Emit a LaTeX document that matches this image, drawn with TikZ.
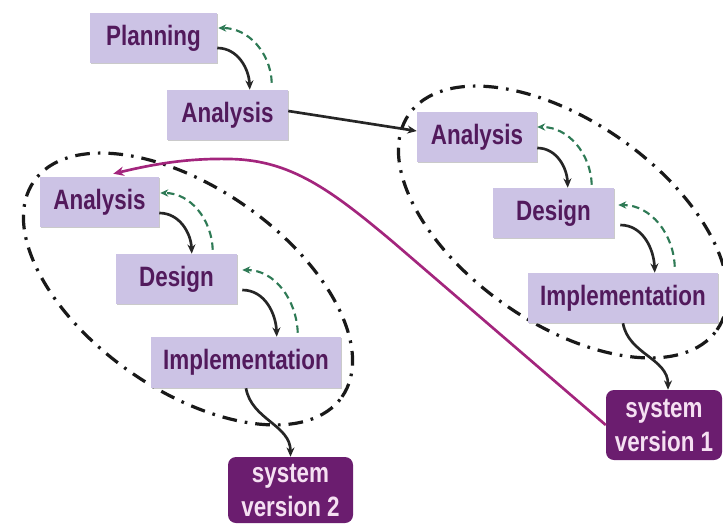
\documentclass[tikz,border=0pt]{standalone}
\usepackage{fontspec}
\setmainfont[FakeStretch=0.8]{Liberation Sans}
\usetikzlibrary{calc,arrows.meta,shadows}

\definecolor{phasefill}{HTML}{CCC3E5}
\definecolor{phasetext}{HTML}{521A5C}
\definecolor{releasefill}{HTML}{6B1D6F}
\definecolor{releasetext}{HTML}{F5E0F2}
\definecolor{feedback}{HTML}{2E7A55}
\definecolor{nextround}{HTML}{A3257D}

\begin{document}
\begin{tikzpicture}[x=0.75pt,y=-0.75pt,
  labelfont/.style={font=\fontsize{21}{25.5}\selectfont\bfseries},
  phase/.style={labelfont, fill=phasefill, text=phasetext, inner sep=0pt,
    minimum height=37.5pt,
    drop shadow={shadow xshift=1pt, shadow yshift=-1pt, fill=black!35, opacity=0.6}},
  release/.style={labelfont, fill=releasefill, text=releasetext, inner sep=0pt,
    rounded corners=6pt, align=center},
  flow/.style={line width=2pt, draw=black!85, -{Stealth[length=7pt,width=6pt]}},
  back/.style={line width=1.6pt, draw=feedback, dash pattern=on 5.5pt off 3.5pt,
    -{Stealth[length=6pt,width=5.5pt]}},
  iteration/.style={line width=2.4pt, draw=black!90,
    dash pattern=on 11pt off 6pt on 2pt off 6pt},
  carry/.style={line width=2pt, draw=nextround, -{Stealth[length=8pt,width=7pt,open]}},
]
\useasboundingbox (0,0) rectangle (723,525);

% iteration loops
\draw[iteration, rotate around={-35:(188,289)}] (188,289) ellipse [x radius=141pt, y radius=75.75pt];
\draw[iteration, rotate around={-35:(563,222)}] (563,222) ellipse [x radius=141pt, y radius=75.75pt];

% phases
\node[phase, minimum width=95.25pt] (plan) at (153.5,38)  {Planning};
\node[phase, minimum width=90.75pt] (an0)  at (227.5,115) {Analysis};

\node[phase, minimum width=89.25pt] (la)   at (99.5,202)  {Analysis};
\node[phase, minimum width=90.75pt] (ld)   at (176.5,279) {Design};
\node[phase, minimum width=142.5pt, minimum height=38.25pt] (li) at (246,362.5) {Implementation};
\node[release, minimum width=93.75pt, minimum height=49.5pt] (sv2) at (290.5,490) {system\\version 2};

\node[phase, minimum width=90pt]    (ra)   at (477,137)   {Analysis};
\node[phase, minimum width=90.75pt] (rd)   at (553.5,213) {Design};
\node[phase, minimum width=142.5pt, minimum height=37.5pt] (ri) at (623,298) {Implementation};
\node[release, minimum width=87pt, minimum height=52.5pt] (sv1) at (664,425) {system\\version 1};

% forward steps
\draw[flow] ($(plan.east)+(0,10)$) to[out=0,in=92] ($(an0.north west)+(83,0)$);
\draw[flow] ($(la.east)+(0,11)$)   to[out=0,in=92] ($(ld.north west)+(76,0)$);
\draw[flow] ($(ld.east)+(5,11)$)   to[out=0,in=92] ($(li.north west)+(126,0)$);
\draw[flow] ($(ra.east)+(0,11)$)   to[out=0,in=92] ($(rd.north west)+(75,0)$);
\draw[flow] ($(rd.east)+(6,12)$)   to[out=0,in=92] ($(ri.north west)+(127,0)$);

% feedback steps
\draw[back] ($(an0.north west)+(105,-7)$) to[out=92,in=0] ($(plan.east)+(1,-10)$);
\draw[back] ($(ld.north west)+(97,-4)$)   to[out=92,in=0] ($(la.east)+(1,-9)$);
\draw[back] ($(li.north west)+(147,-4)$)  to[out=92,in=0] ($(ld.east)+(5,-9)$);
\draw[back] ($(rd.north west)+(99,-3)$)   to[out=92,in=0] ($(ra.east)+(0,-10)$);
\draw[back] ($(ri.north west)+(147,-6)$)  to[out=92,in=0] ($(rd.east)+(4,-8)$);

% releases
\draw[flow] (li.south) to[out=-80,in=90] (sv2.north);
\draw[flow] (ri.south) to[out=-80,in=90] ($(sv1.north)+(4,0)$);

% hand-over to the first loop
\draw[flow] ($(an0.east)+(0,-4)$) -- ($(ra.west)+(0,-6)$);

% next iteration starts from version 1
\coordinate (turn) at (393,242);
\draw[carry] (sv1.west) -- (turn)
  .. controls (330,189) and (290,160) .. (230,159)
  .. controls (185,158) and (150,165) .. ($(la.north east)+(-46,-3)$);
\end{tikzpicture}
\end{document}
